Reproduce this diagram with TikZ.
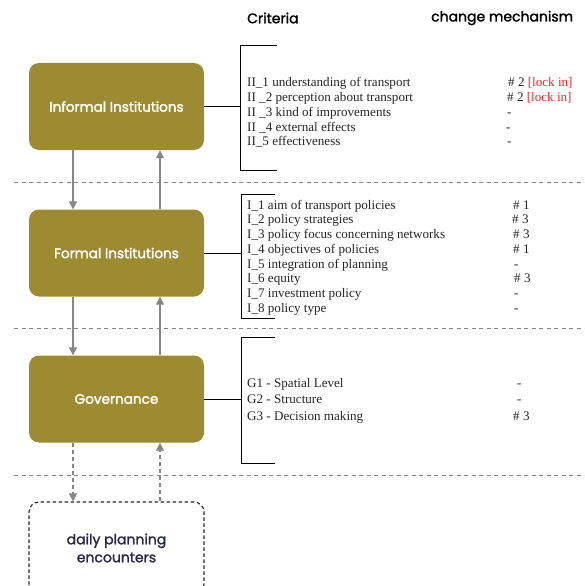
\documentclass[tikz,border=0pt]{standalone}
\usepackage{fontspec}
\setmainfont{Liberation Serif}
\newfontfamily\geo{Poppins}[FakeBold=1.6]
\newfontfamily\geobox{Poppins}[FakeBold=2.2]
\usetikzlibrary{arrows.meta}
\definecolor{olive}{RGB}{157,139,50}
\definecolor{flowgray}{RGB}{135,135,135}
\definecolor{lockred}{RGB}{240,40,40}
\definecolor{navy}{RGB}{40,40,75}
\tikzset{
  inst/.style={rounded corners=10pt, fill=olive, minimum width=175pt, minimum height=87pt,
    text=white, font=\geobox\fontsize{13.6}{15}\selectfont, inner sep=0pt},
  daily/.style={rounded corners=10pt, draw=black!85, line width=1.1pt,
    dash pattern=on 3.5pt off 2.5pt, minimum width=175pt, minimum height=92pt,
    text=navy, font=\geo\fontsize{14}{18}\selectfont, align=center, inner sep=0pt},
  flow/.style={draw=flowgray, line width=1.3pt, -{Triangle[length=8pt,width=8pt]}},
  dflow/.style={flow, dash pattern=on 4pt off 3pt},
  sep/.style={draw=flowgray, line width=0.8pt, dash pattern=on 4pt off 3.5pt},
  bracket/.style={draw=black, line width=1pt},
  crit/.style={anchor=base west, inner sep=0pt, text=black!85, font=\fontsize{13.1}{14}\selectfont},
  mech/.style={anchor=base west, inner sep=0pt, text=black!85, font=\fontsize{13.1}{14}\selectfont},
  head/.style={anchor=west, inner sep=0pt, font=\geo\fontsize{14}{16}\selectfont},
}
\begin{document}
\begin{tikzpicture}[x=1pt,y=-1pt]
\clip (0,0) rectangle (584,586);
\useasboundingbox (0,0) rectangle (584,586);

% column headers
\node[head] (hcrit) at (247,18) {Criteria};
\node[head] (hmech) at (431,18) {change mechanism};

% level separators
\draw[sep] (14,182) -- (584,182);
\draw[sep] (14,328) -- (584,328);
\draw[sep] (14,475) -- (584,475);

% institution boxes
\node[inst] (inf) at (116.5,106.5) {Informal Institutions};
\node[inst] (form) at (116.5,253) {Formal Institutions};
\node[inst] (gov) at (116.5,399) {Governance};
\node[daily] (day) at (116.5,548) {daily planning\\encounters};

% interactions between the levels
\draw[flow] ([xshift=-43.5pt]inf.south) -- ([xshift=-43.5pt]form.north);
\draw[flow] ([xshift=43.5pt]form.north) -- ([xshift=43.5pt]inf.south);
\draw[flow] ([xshift=-43.5pt]form.south) -- ([xshift=-43.5pt]gov.north);
\draw[flow] ([xshift=43.5pt]gov.north) -- ([xshift=43.5pt]form.south);
\draw[dflow] ([xshift=-43.5pt]gov.south) -- ([xshift=-43.5pt]day.north);
\draw[dflow] ([xshift=43.5pt]day.north) -- ([xshift=43.5pt]gov.south);

% brackets grouping the criteria
\coordinate (b1) at (240,106.5);
\coordinate (b2) at (241,253);
\coordinate (b3) at (241,399);
\draw[bracket] (277,46) -- (240,46) -- (240,170) -- (277,170);
\draw[bracket] (275,194) -- (241,194) -- (241,318) -- (275,318);
\draw[bracket] (275,337) -- (241,337) -- (241,463) -- (275,463);
\draw[bracket] (inf.east) -- (b1);
\draw[bracket] (form.east) -- (b2);
\draw[bracket] (gov.east) -- (b3);

% informal institutions criteria
\node[crit] (ii1) at (247,86.5) {II\_1 understanding of transport};
\node[crit] (ii2) at (247,101.5) {II \_2 perception about transport};
\node[crit] (ii3) at (247,116) {II \_3 kind of improvements};
\node[crit] (ii4) at (247,131) {II \_4 external effects};
\node[crit] (ii5) at (247,145.5) {II\_5 effectiveness};
\node[mech] (mi1) at (508,86.5) {\# 2 \textcolor{lockred}{[lock in]}};
\node[mech] (mi2) at (507,101.5) {\# 2 \textcolor{lockred}{[lock in]}};
\node[mech] (mi3) at (507,116) {-};
\node[mech] (mi4) at (506,131) {-};
\node[mech] (mi5) at (507,145.5) {-};

% formal institutions criteria
\node[crit] (i1) at (247,209) {I\_1 aim of transport policies};
\node[crit] (i2) at (247,223.5) {I\_2 policy strategies};
\node[crit] (i3) at (247,238.5) {I\_3 policy focus concerning networks};
\node[crit] (i4) at (247,253) {I\_4 objectives of policies};
\node[crit] (i5) at (247,268) {I\_5 integration of planning};
\node[crit] (i6) at (247,282.5) {I\_6 equity};
\node[crit] (i7) at (247,297) {I\_7 investment policy};
\node[crit] (i8) at (247,312) {I\_8 policy type};
\node[mech] (mf1) at (513,209) {\# 1};
\node[mech] (mf2) at (512,223.5) {\# 3};
\node[mech] (mf3) at (513,238.5) {\# 3};
\node[mech] (mf4) at (513,253) {\# 1};
\node[mech] (mf5) at (514,268) {-};
\node[mech] (mf6) at (514,282.5) {\# 3};
\node[mech] (mf7) at (514,297) {-};
\node[mech] (mf8) at (514,312) {-};

% governance criteria
\node[crit] (g1) at (247,387) {G1 - Spatial Level};
\node[crit] (g2) at (247,403.5) {G2 - Structure};
\node[crit] (g3) at (247,420) {G3 - Decision making};
\node[mech] (mg1) at (517,387) {-};
\node[mech] (mg2) at (517,403.5) {-};
\node[mech] (mg3) at (513,420) {\# 3};
\end{tikzpicture}
\end{document}
